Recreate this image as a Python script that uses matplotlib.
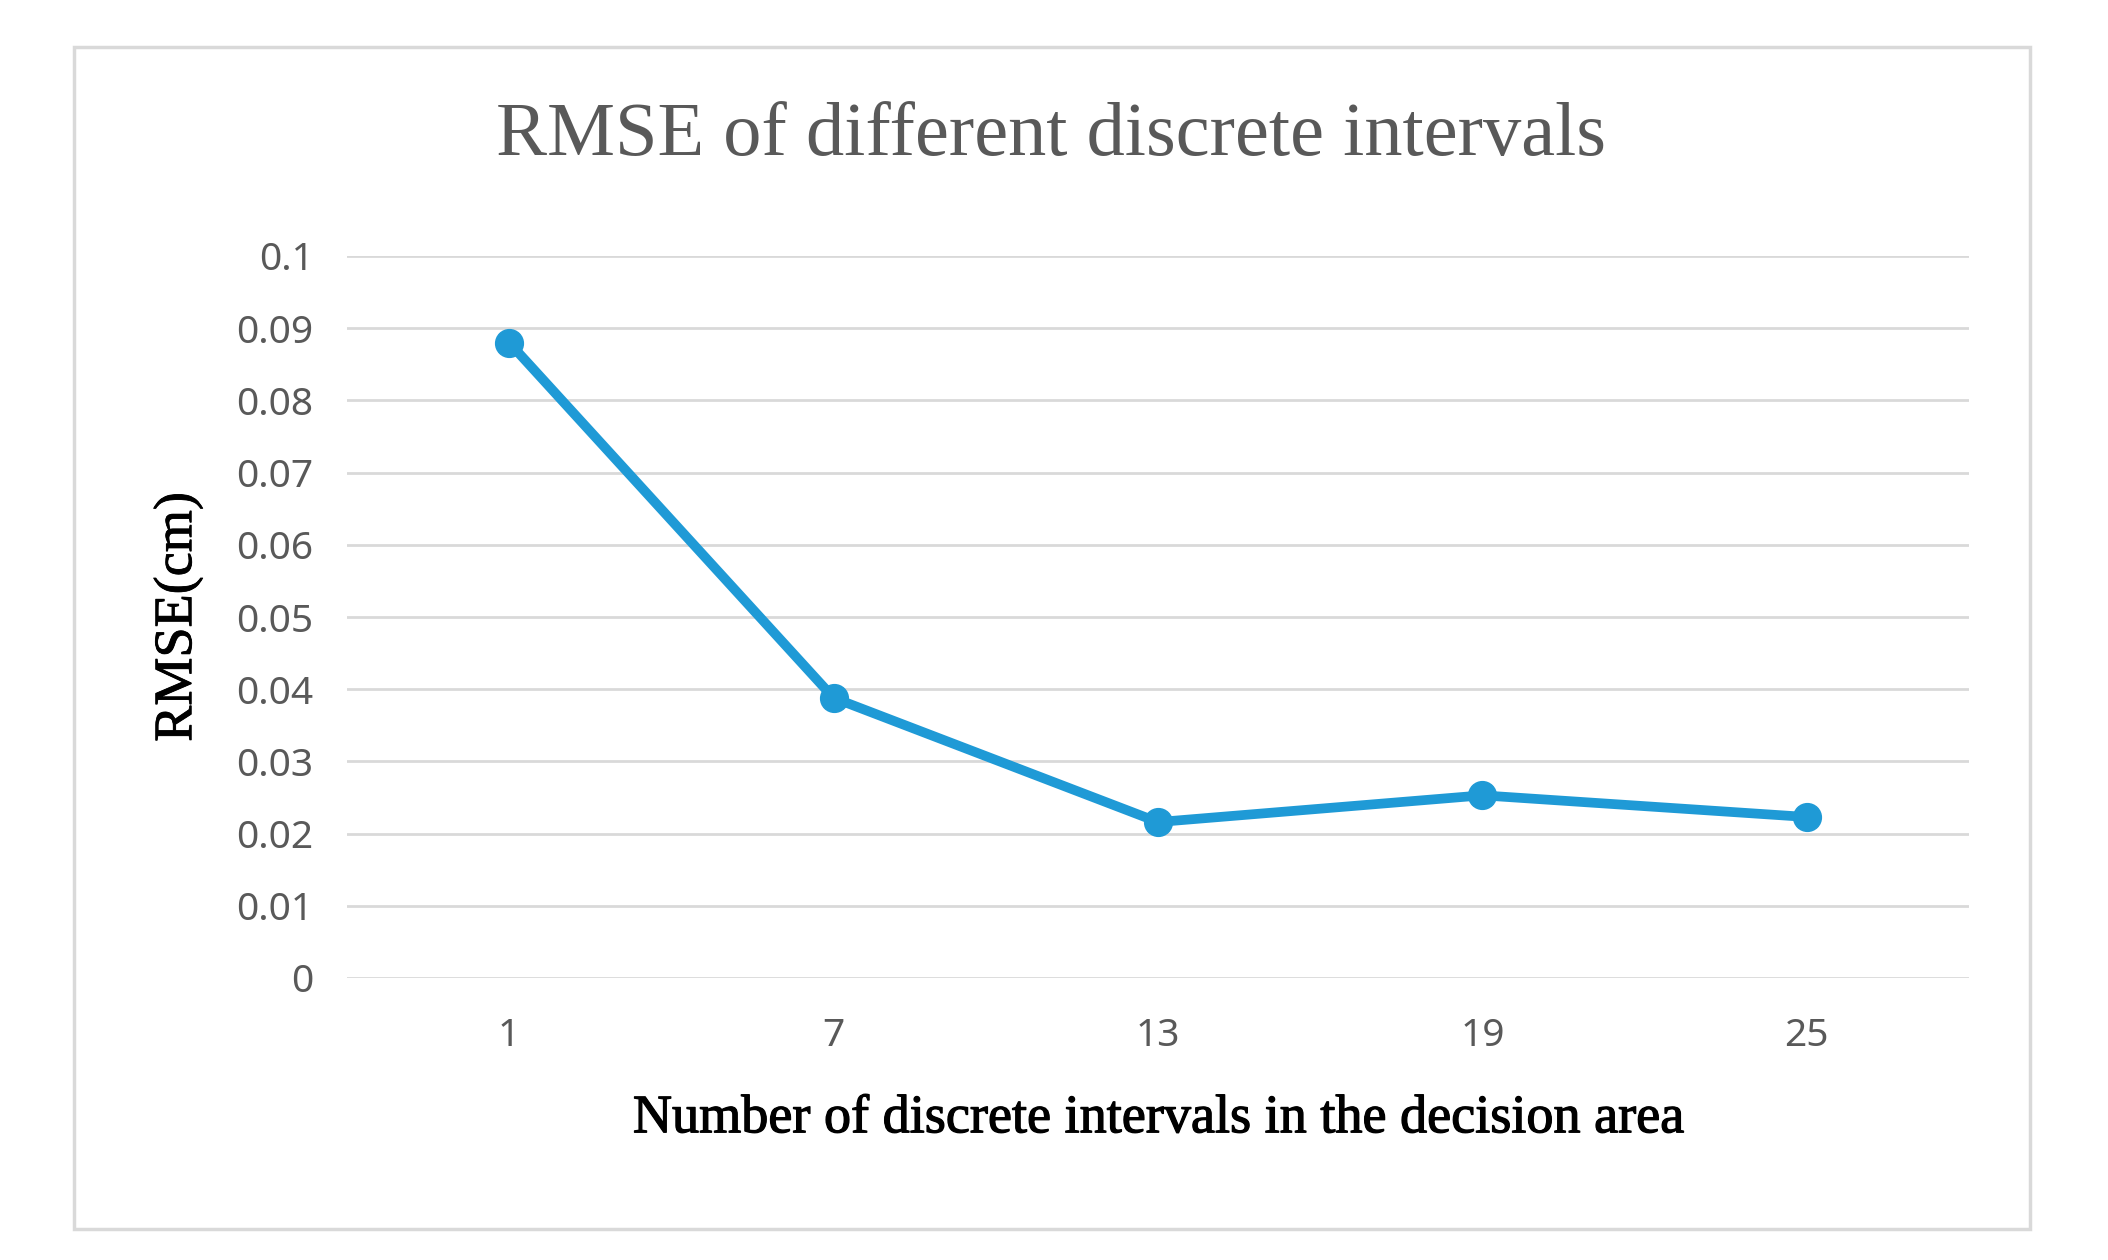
import matplotlib
matplotlib.use("Agg")
import matplotlib.pyplot as plt
from matplotlib.patches import Rectangle
import matplotlib.patheffects as pe

categories = ["1", "7", "13", "19", "25"]
rmse = [0.088, 0.0388, 0.0216, 0.0253, 0.0223]
yticks = [0, 0.01, 0.02, 0.03, 0.04, 0.05, 0.06, 0.07, 0.08, 0.09, 0.1]
ytick_labels = ["0", "0.01", "0.02", "0.03", "0.04", "0.05", "0.06", "0.07", "0.08", "0.09", "0.1"]

W, H = 2108, 1260
fig = plt.figure(figsize=(W / 100, H / 100), dpi=100)
fig.patch.set_facecolor("white")

# outer border
fig.patches.append(Rectangle((74 / W, 1 - 1229 / H), (2030 - 74) / W, (1229 - 47) / H,
                             transform=fig.transFigure, fill=False,
                             edgecolor="#d9d9d9", linewidth=2.5))

ax = fig.add_axes([347 / W, 1 - 978 / H, (1969 - 347) / W, (978 - 256) / H])
x = list(range(len(categories)))
ax.plot(x, rmse, color="#1F9AD6", linewidth=7, marker="o", markersize=20,
        solid_capstyle="round", zorder=3)

ax.set_xlim(-0.5, len(categories) - 0.5)
ax.set_ylim(0, 0.1)
ax.set_yticks(yticks)
ax.set_yticklabels(ytick_labels)
ax.set_xticks(x)
ax.set_xticklabels(categories)
ax.grid(axis="y", color="#d9d9d9", linewidth=2)
ax.set_axisbelow(True)
for s in ax.spines.values():
    s.set_visible(False)
ax.tick_params(axis="both", length=0, labelsize=28, labelcolor="#595959")
ax.tick_params(axis="y", pad=24)
ax.tick_params(axis="x", pad=28)
for lbl in ax.get_xticklabels() + ax.get_yticklabels():
    lbl.set_family("Noto Sans")

stroke = [pe.withStroke(linewidth=0.9, foreground="black")]
ax.set_xlabel("Number of discrete intervals in the decision area",
              family="Liberation Serif", fontsize=39, color="black", labelpad=28,
              path_effects=stroke)
ax.set_ylabel("RMSE(cm)", family="Liberation Serif", fontsize=39, color="black",
              labelpad=24, path_effects=[pe.withStroke(linewidth=0.6, foreground="black")])

fig.text(1051 / W, 1 - 137 / H, "RMSE of different discrete intervals",
         family="Liberation Serif", fontsize=55, color="#595959",
         ha="center", va="center")

fig.savefig("out.png", dpi=100, facecolor="white")
